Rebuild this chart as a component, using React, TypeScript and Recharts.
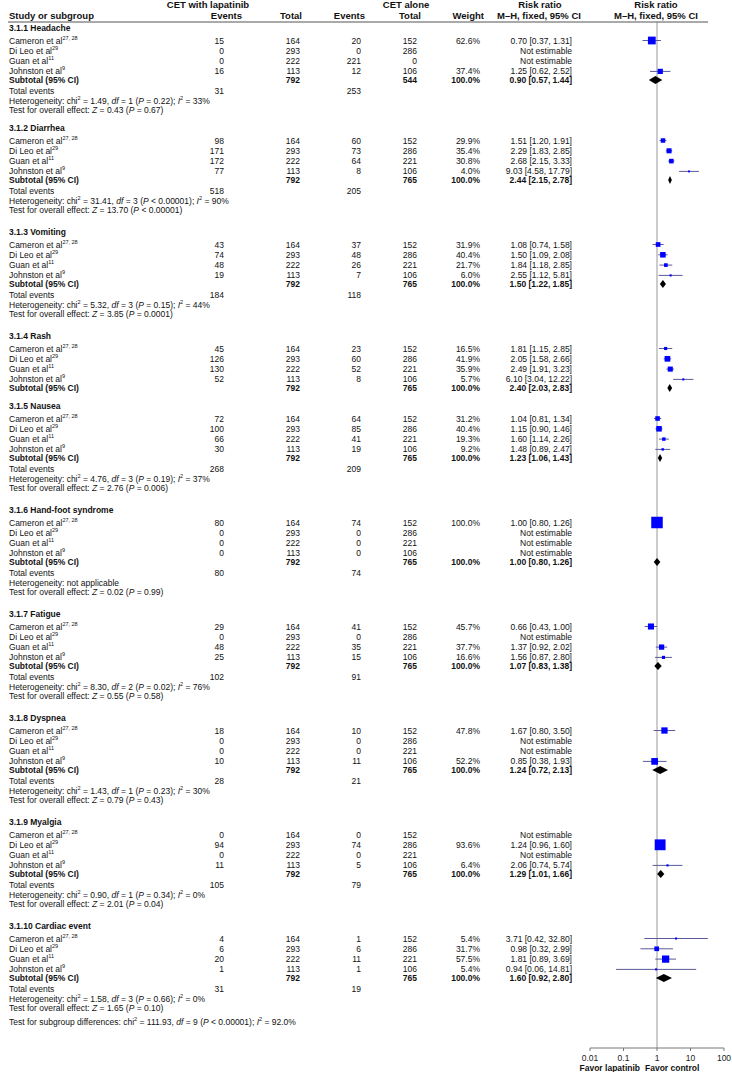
import React from 'react';
import { ScatterChart, Scatter, XAxis, YAxis, ReferenceLine } from 'recharts';

// Forest plot: CET with lapatinib vs CET alone, adverse events by subgroup

const subgroups = [
  '3.1.1 Headache',
  '3.1.2 Diarrhea',
  '3.1.3 Vomiting',
  '3.1.4 Rash',
  '3.1.5 Nausea',
  '3.1.6 Hand-foot syndrome',
  '3.1.7 Fatigue',
  '3.1.8 Dyspnea',
  '3.1.9 Myalgia',
  '3.1.10 Cardiac event',
];
const studies = ['Cameron et al', 'Di Leo et al', 'Guan et al', 'Johnston et al'];
const studyRefs = ['27, 28', '29', '11', '9'];

const lapatinibTotals = [164, 293, 222, 113];
const lapatinibEvents = [
  [15, 0, 0, 16],
  [98, 171, 172, 77],
  [43, 74, 48, 19],
  [45, 126, 130, 52],
  [72, 100, 66, 30],
  [80, 0, 0, 0],
  [29, 0, 48, 25],
  [18, 0, 0, 10],
  [0, 94, 0, 11],
  [4, 6, 20, 1],
];
const controlEvents = [
  [20, 0, 221, 12],
  [60, 73, 64, 8],
  [37, 48, 26, 7],
  [23, 60, 52, 8],
  [64, 85, 41, 19],
  [74, 0, 0, 0],
  [41, 0, 35, 15],
  [10, 0, 0, 11],
  [0, 74, 0, 5],
  [1, 6, 11, 1],
];
const controlTotals = [
  [152, 286, 0, 106],
  [152, 286, 221, 106],
  [152, 286, 221, 106],
  [152, 286, 221, 106],
  [152, 286, 221, 106],
  [152, 286, 221, 106],
  [152, 286, 221, 106],
  [152, 286, 221, 106],
  [152, 286, 221, 106],
  [152, 286, 221, 106],
];
const weights: (number | null)[][] = [
  [62.6, null, null, 37.4],
  [29.9, 35.4, 30.8, 4.0],
  [31.9, 40.4, 21.7, 6.0],
  [16.5, 41.9, 35.9, 5.7],
  [31.2, 40.4, 19.3, 9.2],
  [100.0, null, null, null],
  [45.7, null, 37.7, 16.6],
  [47.8, null, null, 52.2],
  [null, 93.6, null, 6.4],
  [5.4, 31.7, 57.5, 5.4],
];
type RR = [number, number, number] | null;
const ratios: RR[][] = [
  [[0.7, 0.37, 1.31], null, null, [1.25, 0.62, 2.52]],
  [[1.51, 1.2, 1.91], [2.29, 1.83, 2.85], [2.68, 2.15, 3.33], [9.03, 4.58, 17.79]],
  [[1.08, 0.74, 1.58], [1.5, 1.09, 2.08], [1.84, 1.18, 2.85], [2.55, 1.12, 5.81]],
  [[1.81, 1.15, 2.85], [2.05, 1.58, 2.66], [2.49, 1.91, 3.23], [6.1, 3.04, 12.22]],
  [[1.04, 0.81, 1.34], [1.15, 0.9, 1.46], [1.6, 1.14, 2.26], [1.48, 0.89, 2.47]],
  [[1.0, 0.8, 1.26], null, null, null],
  [[0.66, 0.43, 1.0], null, [1.37, 0.92, 2.02], [1.56, 0.87, 2.8]],
  [[1.67, 0.8, 3.5], null, null, [0.85, 0.38, 1.93]],
  [null, [1.24, 0.96, 1.6], null, [2.06, 0.74, 5.74]],
  [[3.71, 0.42, 32.8], [0.98, 0.32, 2.99], [1.81, 0.89, 3.69], [0.94, 0.06, 14.81]],
];
const subtotalRatios: [number, number, number][] = [
  [0.9, 0.57, 1.44],
  [2.44, 2.15, 2.78],
  [1.5, 1.22, 1.85],
  [2.4, 2.03, 2.83],
  [1.23, 1.06, 1.43],
  [1.0, 0.8, 1.26],
  [1.07, 0.83, 1.38],
  [1.24, 0.72, 2.13],
  [1.29, 1.01, 1.66],
  [1.6, 0.92, 2.8],
];
const lapatinibSubtotals = [792, 792, 792, 792, 792, 792, 792, 792, 792, 792];
const controlSubtotals = [544, 765, 765, 765, 765, 765, 765, 765, 765, 765];
const lapatinibTotalEvents = [31, 518, 184, null, 268, 80, 102, 28, 105, 31];
const controlTotalEvents = [253, 205, 118, null, 209, 74, 91, 21, 79, 19];

const hetChi = [1.49, 31.41, 5.32, null, 4.76, null, 8.3, 1.43, 0.9, 1.58];
const hetDf = [1, 3, 3, null, 3, null, 2, 1, 1, 3];
const hetP = ['= 0.22', '< 0.00001', '= 0.15', null, '= 0.19', null, '= 0.02', '= 0.23', '= 0.34', '= 0.66'];
const hetI2 = [33, 90, 44, null, 37, null, 76, 30, 0, 0];
const zValues = [0.43, 13.7, 3.85, null, 2.76, 0.02, 0.55, 0.79, 2.01, 1.65];
const zP = ['= 0.67', '< 0.00001', '= 0.0001', null, '= 0.006', '= 0.99', '= 0.58', '= 0.43', '= 0.04', '= 0.10'];

const diffChi = 111.93;
const diffDf = 9;
const diffP = '< 0.00001';
const diffI2 = '92.0';

const axisTicks = [0.01, 0.1, 1, 10, 100];

const FONT = '"Liberation Sans", Arial, Helvetica, sans-serif';
const FS = 8.5;
const COL = { study: 9, expEv: 224, expTot: 300, ctlEv: 361, ctlTot: 417, weight: 480, rr: 572 };

type Row = { kind: string; y: number; g?: number; i?: number; x: number };

// layout of the rows (pixel y, mapped 1:1 by the y axis)
const rows: Row[] = [];
rows.push({ kind: 'head1', y: 4.5, x: 1 });
rows.push({ kind: 'head2', y: 15, x: 1 });
rows.push({ kind: 'rule', y: 22, x: 1 });
let top = 28;
let lastY = 0;
subgroups.forEach((_, g) => {
  rows.push({ kind: 'heading', y: top, g, x: 1 });
  studies.forEach((_s, i) => rows.push({ kind: 'study', y: top + 12.5 + i * 10.3, g, i, x: 1 }));
  rows.push({ kind: 'subtotal', y: top + 52, g, x: 1 });
  if (lapatinibTotalEvents[g] != null) {
    rows.push({ kind: 'total', y: top + 62.5, g, x: 1 });
    rows.push({ kind: 'het', y: top + 72.5, g, x: 1 });
    rows.push({ kind: 'test', y: top + 82, g, x: 1 });
    lastY = top + 82;
    top += g === 0 ? 100 : 104;
  } else {
    top += 70;
  }
});
rows.push({ kind: 'diff', y: lastY + 14, x: 1 });

const estPoints: { x: number; y: number; w: number }[] = [];
const ciPoints: { x: number; y: number }[] = [];
const diamondPoints: { x: number; y: number }[] = [];
rows.forEach((r) => {
  if (r.kind === 'study') {
    const rr = ratios[r.g!][r.i!];
    if (rr) {
      estPoints.push({ x: rr[0], y: r.y, w: weights[r.g!][r.i!] ?? 0 });
      ciPoints.push({ x: rr[1], y: r.y }, { x: rr[2], y: r.y });
    }
  }
  if (r.kind === 'subtotal') {
    const s = subtotalRatios[r.g!];
    diamondPoints.push({ x: s[1], y: r.y }, { x: s[0], y: r.y }, { x: s[2], y: r.y });
  }
});

const fmtRR = (rr: RR) => (rr ? `${rr[0].toFixed(2)} [${rr[1].toFixed(2)}, ${rr[2].toFixed(2)}]` : 'Not estimable');

const Sup = ({ children }: { children: React.ReactNode }) => (
  <tspan dy={-3} fontSize={5.5}>{children}</tspan>
);

function RowText({ row, cy }: { row: Row; cy: number }) {
  const t = (x: number, content: React.ReactNode, anchor = 'end', bold = false, size = FS) => (
    <text x={x} y={cy} textAnchor={anchor} dominantBaseline="central" fontWeight={bold ? 'bold' : 'normal'} fontSize={size}>
      {content}
    </text>
  );
  const g = row.g ?? 0;
  switch (row.kind) {
    case 'head1':
      return (
        <g>
          {t(208, 'CET with lapatinib', 'middle', true, 9.5)}
          {t(406, 'CET alone', 'middle', true, 9.5)}
          {t(540, 'Risk ratio', 'middle', true, 9.5)}
          {t(656, 'Risk ratio', 'middle', true, 9.5)}
        </g>
      );
    case 'head2':
      return (
        <g>
          {t(COL.study, 'Study or subgroup', 'start', true, 9.5)}
          {t(242, 'Events', 'end', true, 9.5)}
          {t(302, 'Total', 'end', true, 9.5)}
          {t(365, 'Events', 'end', true, 9.5)}
          {t(421, 'Total', 'end', true, 9.5)}
          {t(484, 'Weight', 'end', true, 9.5)}
          {t(539, 'M\u2013H, fixed, 95% CI', 'middle', true, 9.5)}
          {t(656, 'M\u2013H, fixed, 95% CI', 'middle', true, 9.5)}
        </g>
      );
    case 'rule':
      return <line x1={8} x2={708} y1={cy} y2={cy} stroke="#555" strokeWidth={1} />;
    case 'heading':
      return t(COL.study, subgroups[g], 'start', true);
    case 'study': {
      const i = row.i ?? 0;
      const w = weights[g][i];
      return (
        <g>
          {t(COL.study, <>{studies[i]}<Sup>{studyRefs[i]}</Sup></>, 'start')}
          {t(COL.expEv, lapatinibEvents[g][i])}
          {t(COL.expTot, lapatinibTotals[i])}
          {t(COL.ctlEv, controlEvents[g][i])}
          {t(COL.ctlTot, controlTotals[g][i])}
          {w != null && t(COL.weight, `${w.toFixed(1)}%`)}
          {t(COL.rr, fmtRR(ratios[g][i]))}
        </g>
      );
    }
    case 'subtotal':
      return (
        <g>
          {t(COL.study, 'Subtotal (95% CI)', 'start', true)}
          {t(COL.expTot, lapatinibSubtotals[g], 'end', true)}
          {t(COL.ctlTot, controlSubtotals[g], 'end', true)}
          {t(COL.weight, '100.0%', 'end', true)}
          {t(COL.rr, fmtRR(subtotalRatios[g]), 'end', true)}
        </g>
      );
    case 'total':
      return (
        <g>
          {t(COL.study, 'Total events', 'start')}
          {t(COL.expEv, lapatinibTotalEvents[g])}
          {t(COL.ctlEv, controlTotalEvents[g])}
        </g>
      );
    case 'het':
      if (hetChi[g] == null) return t(COL.study, 'Heterogeneity: not applicable', 'start');
      return t(
        COL.study,
        <>
          {'Heterogeneity: chi'}
          <Sup>2</Sup>
          <tspan dy={3}>{` = ${hetChi[g]!.toFixed(2)}, `}</tspan>
          <tspan fontStyle="italic">df</tspan>
          {` = ${hetDf[g]} (`}
          <tspan fontStyle="italic">P</tspan>
          {` ${hetP[g]}); `}
          <tspan fontStyle="italic">I</tspan>
          <Sup>2</Sup>
          <tspan dy={3}>{` = ${hetI2[g]}%`}</tspan>
        </>,
        'start'
      );
    case 'test':
      return t(
        COL.study,
        <>
          {'Test for overall effect: '}
          <tspan fontStyle="italic">Z</tspan>
          {` = ${zValues[g]!.toFixed(2)} (`}
          <tspan fontStyle="italic">P</tspan>
          {` ${zP[g]})`}
        </>,
        'start'
      );
    case 'diff':
      return t(
        COL.study,
        <>
          {'Test for subgroup differences: chi'}
          <Sup>2</Sup>
          <tspan dy={3}>{` = ${diffChi.toFixed(2)}, `}</tspan>
          <tspan fontStyle="italic">df</tspan>
          {` = ${diffDf} (`}
          <tspan fontStyle="italic">P</tspan>
          {` ${diffP}); `}
          <tspan fontStyle="italic">I</tspan>
          <Sup>2</Sup>
          <tspan dy={3}>{` = ${diffI2}%`}</tspan>
        </>,
        'start'
      );
    default:
      return <g />;
  }
}

const Empty = () => <g />;

function ciLines(lp: any) {
  const pts = lp.points || [];
  const segs = [];
  for (let k = 0; k + 1 < pts.length; k += 2) {
    segs.push(
      <line key={k} x1={pts[k].x} x2={pts[k + 1].x} y1={pts[k].y} y2={pts[k].y} stroke="#5a5a9a" strokeWidth={1} />
    );
  }
  return <g>{segs}</g>;
}

function diamonds(lp: any) {
  const pts = lp.points || [];
  const polys = [];
  for (let k = 0; k + 2 < pts.length; k += 3) {
    const lo = pts[k];
    const est = pts[k + 1];
    const hi = pts[k + 2];
    const y = est.y;
    polys.push(
      <polygon key={k} points={`${lo.x},${y} ${est.x},${y - 4} ${hi.x},${y} ${est.x},${y + 4}`} fill="#000" />
    );
  }
  return <g>{polys}</g>;
}

function Square(p: any) {
  const s = 1.5 + 0.1 * (p.payload?.w ?? 0);
  return <rect x={p.cx - s / 2} y={p.cy - s / 2} width={s} height={s} fill="#0000ff" />;
}

function AxisTick(p: any) {
  const v = p.payload?.value;
  return (
    <g fontFamily={FONT}>
      <text x={p.x} y={p.y + 6} textAnchor="middle" dominantBaseline="central" fontSize={FS} fill="#222">
        {String(v)}
      </text>
      {v === 1 && (
        <>
          <text x={p.x - 17} y={p.y + 15.5} textAnchor="end" dominantBaseline="central" fontSize={FS} fontWeight="bold" fill="#111">
            Favor lapatinib
          </text>
          <text x={p.x - 12} y={p.y + 15.5} textAnchor="start" dominantBaseline="central" fontSize={FS} fontWeight="bold" fill="#111">
            Favor control
          </text>
        </>
      )}
    </g>
  );
}

export default function App() {
  return (
    <div style={{ position: 'absolute', left: 0, top: 0, width: 732, height: 1072, background: '#fff', fontFamily: FONT }}>
      <ScatterChart width={732} height={1072} margin={{ top: 0, right: 8, bottom: 0, left: 590 }}>
        <XAxis
          type="number"
          dataKey="x"
          scale="log"
          domain={[0.01, 100]}
          ticks={axisTicks}
          height={24}
          stroke="#777"
          tickSize={3}
          tickMargin={1}
          tick={AxisTick}
          interval={0}
        />
        <YAxis type="number" dataKey="y" domain={[0, 1048]} reversed hide />
        <ReferenceLine segment={[{ x: 1, y: 22 }, { x: 1, y: 1048 }]} stroke="#999" strokeWidth={1} />
        <Scatter
          data={rows}
          isAnimationActive={false}
          shape={(p: any) => (
            <g fontFamily={FONT} fill="#111">
              <RowText row={p.payload} cy={p.cy} />
            </g>
          )}
        />
        <Scatter data={ciPoints} isAnimationActive={false} shape={Empty} line={ciLines} lineType="joint" />
        <Scatter data={estPoints} isAnimationActive={false} shape={Square} />
        <Scatter data={diamondPoints} isAnimationActive={false} shape={Empty} line={diamonds} lineType="joint" />
      </ScatterChart>
    </div>
  );
}
